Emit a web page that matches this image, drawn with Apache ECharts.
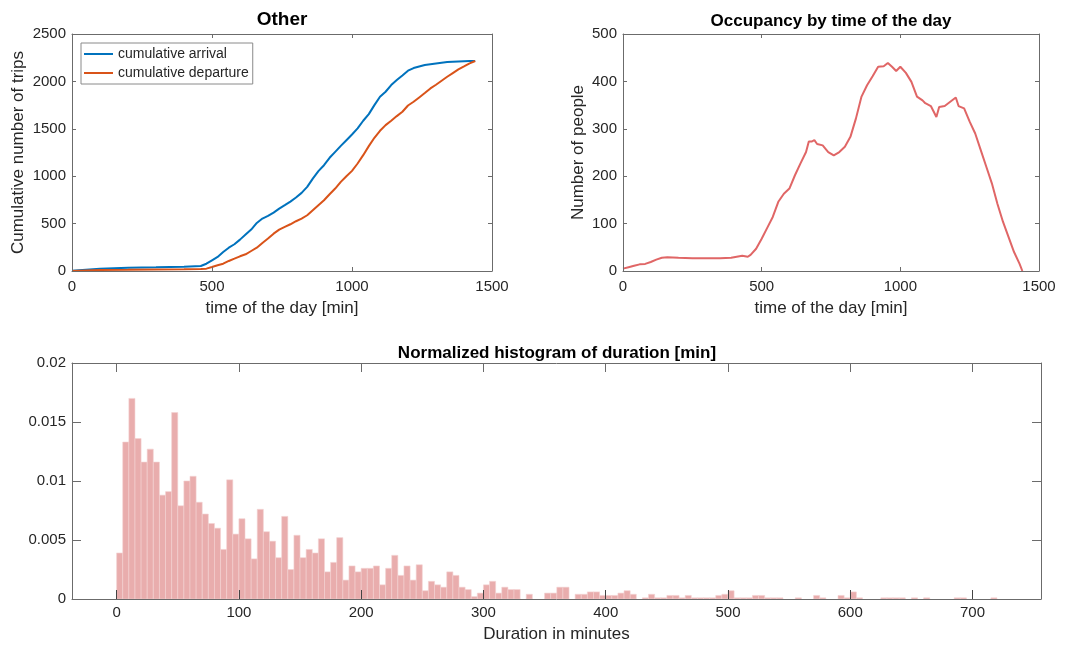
<!DOCTYPE html>
<html>
<head>
<meta charset="utf-8">
<script src="https://cdn.jsdelivr.net/npm/echarts@6/dist/echarts.min.js"></script>
<style>
  html, body { margin: 0; padding: 0; background: #fff; }
  #chart { width: 1065px; height: 651px; }
</style>
</head>
<body>
<div id="chart"></div>
<script>
// Cumulative trips over the day (minutes since midnight)
const cumTime = [0, 100, 200, 300, 400, 460,
  480, 500, 520, 540, 560, 580, 600, 620, 640, 660,
  680, 700, 720, 740, 760, 780, 800, 820, 840, 860,
  880, 900, 920, 940, 960, 980, 1000, 1020, 1040, 1060,
  1080, 1100, 1120, 1140, 1160, 1180, 1200, 1220, 1240, 1260,
  1280, 1300, 1320, 1340, 1360, 1380, 1400, 1420, 1440];
const cumArrival = [3, 25, 35, 39, 45, 53,
  77, 113, 148, 200, 246, 282, 331, 384, 437, 507,
  553, 581, 616, 658, 694, 732, 775, 824, 887, 975,
  1053, 1116, 1194, 1257, 1320, 1380, 1440, 1504, 1585, 1655,
  1750, 1838, 1891, 1961, 2014, 2063, 2113, 2141, 2158, 2173,
  2182, 2190, 2197, 2204, 2208, 2211, 2213, 2215, 2215];
const cumDeparture = [0, 10, 12, 15, 18, 22,
  25, 42, 60, 77, 106, 130, 155, 176, 211, 246,
  296, 342, 394, 437, 465, 493, 525, 553, 588, 641,
  694, 746, 810, 870, 940, 1000, 1056, 1134, 1222, 1317,
  1405, 1479, 1539, 1585, 1634, 1680, 1746, 1785, 1831, 1877,
  1926, 1965, 2007, 2049, 2088, 2127, 2158, 2190, 2215];

// People present by time of the day
const occTime = [0, 20, 40, 60, 80, 100, 120, 140, 160, 200, 250, 300, 350, 390, 410, 430, 450, 460,
  480, 500, 520, 540, 560, 580, 600, 620, 640, 660, 670, 680, 690, 700, 720, 740, 760, 780,
  800, 820, 840, 860, 880, 900, 920, 940, 955, 970, 985, 1000, 1020, 1040, 1060, 1080, 1090,
  1110, 1130, 1140, 1160, 1180, 1200, 1210, 1230, 1250, 1270, 1290, 1310, 1330, 1350, 1370,
  1390, 1410, 1430, 1440];
const occPeople = [5, 8, 11, 14, 15, 19, 24, 28, 29, 28, 27, 27, 27, 28, 30, 32, 30, 34,
  47, 68, 91, 114, 146, 163, 174, 202, 227, 251, 273, 273, 276, 268, 265, 251, 244, 251,
  262, 283, 322, 368, 392, 411, 431, 432, 439, 431, 422, 431, 418, 399, 368, 360, 354,
  348, 325, 346, 348, 357, 366, 348, 343, 315, 290, 255, 220, 185, 142, 104,
  72, 40, 15, 0];

// Normalized duration histogram, 5-minute bins starting at 0
const binWidth = 5;
const durationDensity = [
  0.0039, 0.0133, 0.0170, 0.0136, 0.0116, 0.0127, 0.0116, 0.0088, 0.0091, 0.0158,
  0.0079, 0.0100, 0.0104, 0.0082, 0.0072, 0.0064, 0.0060, 0.0042, 0.0101, 0.0055,
  0.0068, 0.0051, 0.0034, 0.0076, 0.0057, 0.0049, 0.0035, 0.0070, 0.0025, 0.0054,
  0.0035, 0.0042, 0.0039, 0.0051, 0.0023, 0.0031, 0.0052, 0.0016, 0.0028, 0.0023,
  0.0026, 0.0026, 0.0028, 0.0012, 0.0026, 0.0037, 0.0020, 0.0028, 0.0016, 0.0029,
  0.0007, 0.0015, 0.0012, 0.0010, 0.0023, 0.0020, 0.0010, 0.0008, 0.0002, 0.0005,
  0.0012, 0.0015, 0.0005, 0.0010, 0.0008, 0.0008, 0, 0.0004, 0, 0,
  0.0005, 0.0005, 0.0010, 0.0010, 0, 0.0004, 0.0004, 0.0006, 0.0006, 0.0003,
  0.0003, 0.0003, 0.0005, 0.0007, 0.0004, 0, 0.0001, 0.0004, 0.0001, 0.0001,
  0.0003, 0.0003, 0.0001, 0.0003, 0.0001, 0.0001, 0.0001, 0.0001, 0.0003, 0.0004,
  0.0007, 0.0001, 0.0001, 0.0001, 0.0003, 0.0003, 0.0001, 0.0001, 0.0001, 0,
  0, 0.0001, 0, 0, 0.0003, 0.0001, 0, 0, 0.0003, 0.0001,
  0.0006, 0.0001, 0, 0, 0, 0.0001, 0.0001, 0.0001, 0.0001, 0,
  0.0001, 0, 0.0001, 0, 0, 0, 0, 0.0001, 0.0001, 0,
  0, 0, 0, 0.0001];

const durationTicks = [0, 100, 200, 300, 400, 500, 600, 700];

const FONT = 'Liberation Sans';
const AXIS_COLOR = '#6b6b6b';
const TEXT_COLOR = '#262626';

const zip = (xs, ys) => xs.map((x, i) => [x, ys[i]]);
const histData = durationDensity.map((v, i) => [i * binWidth, (i + 1) * binWidth, v]);
const plain = v => String(v);

function labelStyle(margin, extra) {
  return Object.assign({ color: TEXT_COLOR, fontSize: 15, fontFamily: FONT, margin: margin, formatter: plain }, extra || {});
}

// Primary (labelled) axis with inward ticks
function mainAxis(extra) {
  return Object.assign({
    type: 'value',
    z: 5,
    axisLine: { show: true, onZero: false, lineStyle: { color: AXIS_COLOR, width: 1 } },
    axisTick: { show: true, inside: true, length: 4, lineStyle: { color: AXIS_COLOR } },
    axisLabel: labelStyle(6),
    splitLine: { show: false },
    nameTextStyle: { color: TEXT_COLOR, fontSize: 17, fontFamily: FONT }
  }, extra);
}
// Mirror axis on the opposite side (box with ticks, no labels)
function mirrorAxis(extra) {
  return Object.assign({
    type: 'value',
    z: 5,
    axisLine: { show: true, onZero: false, lineStyle: { color: AXIS_COLOR, width: 1 } },
    axisTick: { show: true, inside: true, length: 4, lineStyle: { color: AXIS_COLOR } },
    axisLabel: { show: false },
    splitLine: { show: false }
  }, extra);
}

const option = {
  animation: false,
  backgroundColor: '#fff',
  textStyle: { fontFamily: FONT },
  title: [
    { text: 'Other', left: 282, top: 10, textAlign: 'center', padding: 0,
      textStyle: { fontSize: 19, fontWeight: 'bold', color: '#000', fontFamily: FONT } },
    { text: 'Occupancy by time of the day', left: 831, top: 13, textAlign: 'center', padding: 0,
      textStyle: { fontSize: 17, fontWeight: 'bold', color: '#000', fontFamily: FONT } },
    { text: 'Normalized histogram of duration [min]', left: 557, top: 345, textAlign: 'center', padding: 0,
      textStyle: { fontSize: 17, fontWeight: 'bold', color: '#000', fontFamily: FONT } }
  ],
  legend: {
    data: ['cumulative arrival', 'cumulative departure'],
    orient: 'vertical',
    left: 81, top: 43,
    padding: [3, 4, 3, 3],
    icon: 'rect',
    itemWidth: 29, itemHeight: 2, itemGap: 3, itemTextGap: 3,
    backgroundColor: '#fff',
    borderColor: '#8a8a8a', borderWidth: 1,
    textStyle: { fontSize: 14, color: TEXT_COLOR, fontFamily: FONT, lineHeight: 16 }
  },
  grid: [
    { left: 72, top: 34, width: 420, height: 237 },
    { left: 623, top: 34, width: 416, height: 237 },
    { left: 72, top: 363, width: 969, height: 236 }
  ],
  xAxis: [
    mainAxis({ gridIndex: 0, min: 0, max: 1500, interval: 500,
      name: 'time of the day [min]', nameLocation: 'middle', nameGap: 29,
      axisLabel: labelStyle(8) }),
    mainAxis({ gridIndex: 1, min: 0, max: 1500, interval: 500,
      name: 'time of the day [min]', nameLocation: 'middle', nameGap: 29,
      axisLabel: labelStyle(8) }),
    mainAxis({ gridIndex: 2, min: -36.5, max: 756,
      name: 'Duration in minutes', nameLocation: 'middle', nameGap: 27,
      axisTick: { show: true, inside: true, length: 9, lineStyle: { color: '#444' }, customValues: durationTicks },
      axisLabel: labelStyle(6, { customValues: durationTicks }) }),
    mirrorAxis({ gridIndex: 0, position: 'top', min: 0, max: 1500, interval: 500 }),
    mirrorAxis({ gridIndex: 1, position: 'top', min: 0, max: 1500, interval: 500 }),
    mirrorAxis({ gridIndex: 2, position: 'top', min: -36.5, max: 756,
      axisTick: { show: true, inside: true, length: 9, lineStyle: { color: AXIS_COLOR }, customValues: durationTicks } })
  ],
  yAxis: [
    mainAxis({ gridIndex: 0, min: 0, max: 2500, interval: 500,
      name: 'Cumulative number of trips', nameLocation: 'middle', nameGap: 45,
      axisLabel: labelStyle(6) }),
    mainAxis({ gridIndex: 1, min: 0, max: 500, interval: 100,
      name: 'Number of people', nameLocation: 'middle', nameGap: 36,
      axisLabel: labelStyle(6) }),
    mainAxis({ gridIndex: 2, min: 0, max: 0.02, interval: 0.005,
      axisTick: { show: true, inside: true, length: 9, lineStyle: { color: AXIS_COLOR } },
      axisLabel: labelStyle(6) }),
    mirrorAxis({ gridIndex: 0, position: 'right', min: 0, max: 2500, interval: 500 }),
    mirrorAxis({ gridIndex: 1, position: 'right', min: 0, max: 500, interval: 100 }),
    mirrorAxis({ gridIndex: 2, position: 'right', min: 0, max: 0.02, interval: 0.005,
      axisTick: { show: true, inside: true, length: 9, lineStyle: { color: AXIS_COLOR } } })
  ],
  series: [
    { name: 'cumulative arrival', type: 'line', xAxisIndex: 0, yAxisIndex: 0,
      data: zip(cumTime, cumArrival), symbol: 'none', smooth: false,
      lineStyle: { color: '#0072BD', width: 2 }, itemStyle: { color: '#0072BD' } },
    { name: 'cumulative departure', type: 'line', xAxisIndex: 0, yAxisIndex: 0,
      data: zip(cumTime, cumDeparture), symbol: 'none', smooth: false,
      lineStyle: { color: '#D95319', width: 2 }, itemStyle: { color: '#D95319' } },
    { name: 'occupancy', type: 'line', xAxisIndex: 1, yAxisIndex: 1,
      data: zip(occTime, occPeople), symbol: 'none', smooth: false,
      lineStyle: { color: '#e06666', width: 2 } },
    { name: 'duration', type: 'custom', xAxisIndex: 2, yAxisIndex: 2,
      data: histData,
      encode: { x: [0, 1], y: 2 },
      renderItem: function (params, api) {
        const v = api.value(2);
        if (!v) return null;
        const p0 = api.coord([api.value(0), v]);
        const p1 = api.coord([api.value(1), 0]);
        return {
          type: 'rect',
          shape: { x: p0[0], y: p0[1], width: p1[0] - p0[0], height: p1[1] - p0[1] },
          style: { fill: '#e9adad', stroke: '#f4d2d2', lineWidth: 0.6 }
        };
      } }
  ]
};

const chart = echarts.init(document.getElementById('chart'), null, { renderer: 'canvas' });
chart.setOption(option);
</script>
</body>
</html>
